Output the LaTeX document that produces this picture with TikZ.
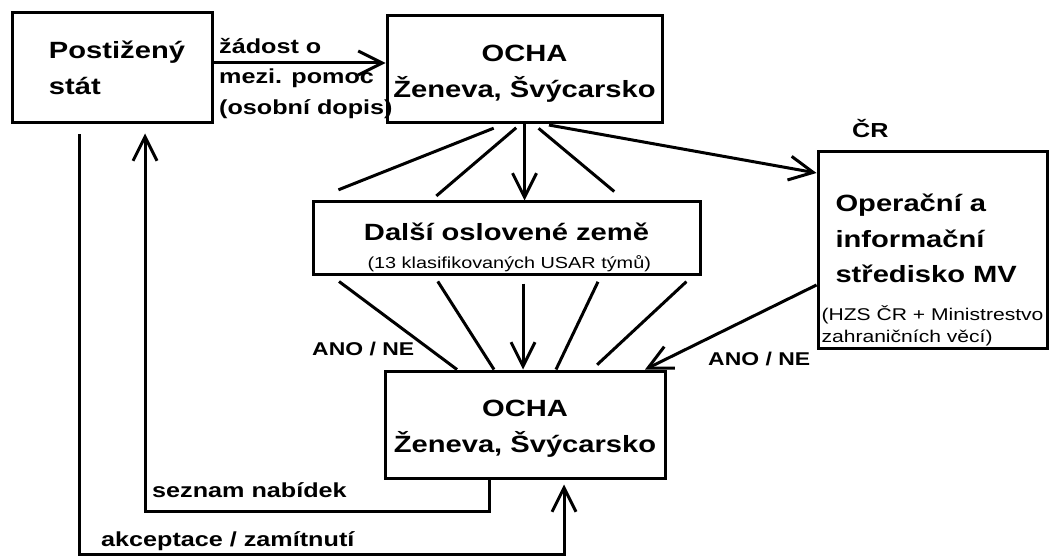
\documentclass[tikz,border=0pt]{standalone}
\usepackage{fontspec}
\setmainfont{Liberation Sans}[FakeStretch=1.24]
\usetikzlibrary{arrows.meta}
\newcommand{\stxt}[1][17]{\fontsize{#1}{22}\selectfont\mdseries}

\begin{document}
\begin{tikzpicture}[x=1pt,y=-1pt,
    box/.style={rectangle,draw,line width=3pt,inner sep=0pt},
    big/.style={font=\fontsize{23.5}{36}\selectfont\bfseries},
    mid/.style={font=\fontsize{20.3}{30.5}\selectfont\bfseries},
    lbl/.style={mid,inner sep=0pt,anchor=base west},
    ln/.style={line width=3pt},
    arr/.style={line width=3pt,-{Straight Barb[length=24pt,width=24pt]}}]
  \useasboundingbox (0,0) rectangle (1049,556);
  \node [box,big,align=left,minimum width=200,minimum height=110] (stat) at (112,68) {\hspace*{10pt}Postižený\\\hspace*{10pt}stát};
  \node [box,big,align=center,minimum width=275,minimum height=107] (ocha1) at (524.5,69.5) {\rule{0pt}{25pt}OCHA\\Ženeva, Švýcarsko};
  \node [box,big,align=center,minimum width=387,minimum height=72] (dalsi) at (506.5,238) {\rule{0pt}{36pt}Další oslovené země\\[-8pt]\stxt[16] (13 klasifikovaných USAR týmů)};
  \node [box,big,align=left,minimum width=229,minimum height=196] (omv) at (932.5,250) {\rule{0pt}{59pt}\hspace*{14pt}Operační a\\
    \hspace*{14pt}informační\\[-1pt]
    \hspace*{14pt}středisko MV\\[2pt]
    \stxt (HZS ČR + Ministrestvo\\[-14pt]
    \stxt zahraničních věcí)\rule[-6pt]{0pt}{6pt}};
  \node [box,big,align=center,minimum width=280,minimum height=107] (ocha2) at (525,424.5) {\rule{0pt}{25pt}OCHA\\Ženeva, Švýcarsko};
  \node [mid,align=left,anchor=north west,inner sep=0pt] (zadost) at (219,38) {žádost o\\mezi. pomoc\\(osobní dopis)};
  \node [lbl] (cr) at (852,138) {ČR};
  \node [lbl,font=\fontsize{18.5}{22}\selectfont\bfseries] (ano1) at (312,355) {ANO / NE};
  \node [lbl,font=\fontsize{18.5}{22}\selectfont\bfseries] (ano2) at (708,365) {ANO / NE};
  \node [lbl] (nabidky) at (152,497) {seznam nabídek};
  \node [lbl] (akcept) at (101,546) {akceptace / zamítnutí};
  \draw [arr] (stat.east |- 0,63) -- (ocha1.west |- 0,63);
  \draw [arr] (ocha1.south) -- (ocha1.south |- dalsi.north);
  \draw [ln,shorten <=10pt,shorten >=29pt] (ocha1.south -| 503,0) -- (dalsi.north west);
  \draw [ln,shorten <=5pt,shorten >=7pt] (ocha1.south -| 520,0) -- (dalsi.north -| 431,0);
  \draw [ln,shorten <=6pt,shorten >=14pt] (ocha1.south -| 534,0) -- (dalsi.north -| 625,0);
  \draw [arr,shorten <=3pt] (ocha1.south -| 546,0) -- (omv.west |- 0,173);
  \draw [ln,shorten <=10pt] (dalsi.south -| 331,0) -- (ocha2.north -| 457,0);
  \draw [ln,shorten <=7pt] (dalsi.south -| 434,0) -- (ocha2.north -| 494,0);
  \draw [arr,shorten <=8pt] (dalsi.south -| 523,0) -- (ocha2.north -| 523,0);
  \draw [ln,shorten <=7pt] (dalsi.south -| 601,0) -- (ocha2.north -| 556,0);
  \draw [ln,shorten <=9pt,shorten >=7pt] (dalsi.south -| 693,0) -- (ocha2.north -| 592,0);
  \draw [arr] (omv.west |- 0,285) -- (ocha2.north -| 645,0);
  \draw [arr,shorten >=9pt] (ocha2.south -| 489,0) -- ++(0,32) -| (stat.south -| 145,0);
  \draw [arr,shorten <=10pt,shorten >=5pt] (stat.south -| 79,0) -- ++(0,430) -| (ocha2.south -| 564,0);
\end{tikzpicture}
\end{document}
